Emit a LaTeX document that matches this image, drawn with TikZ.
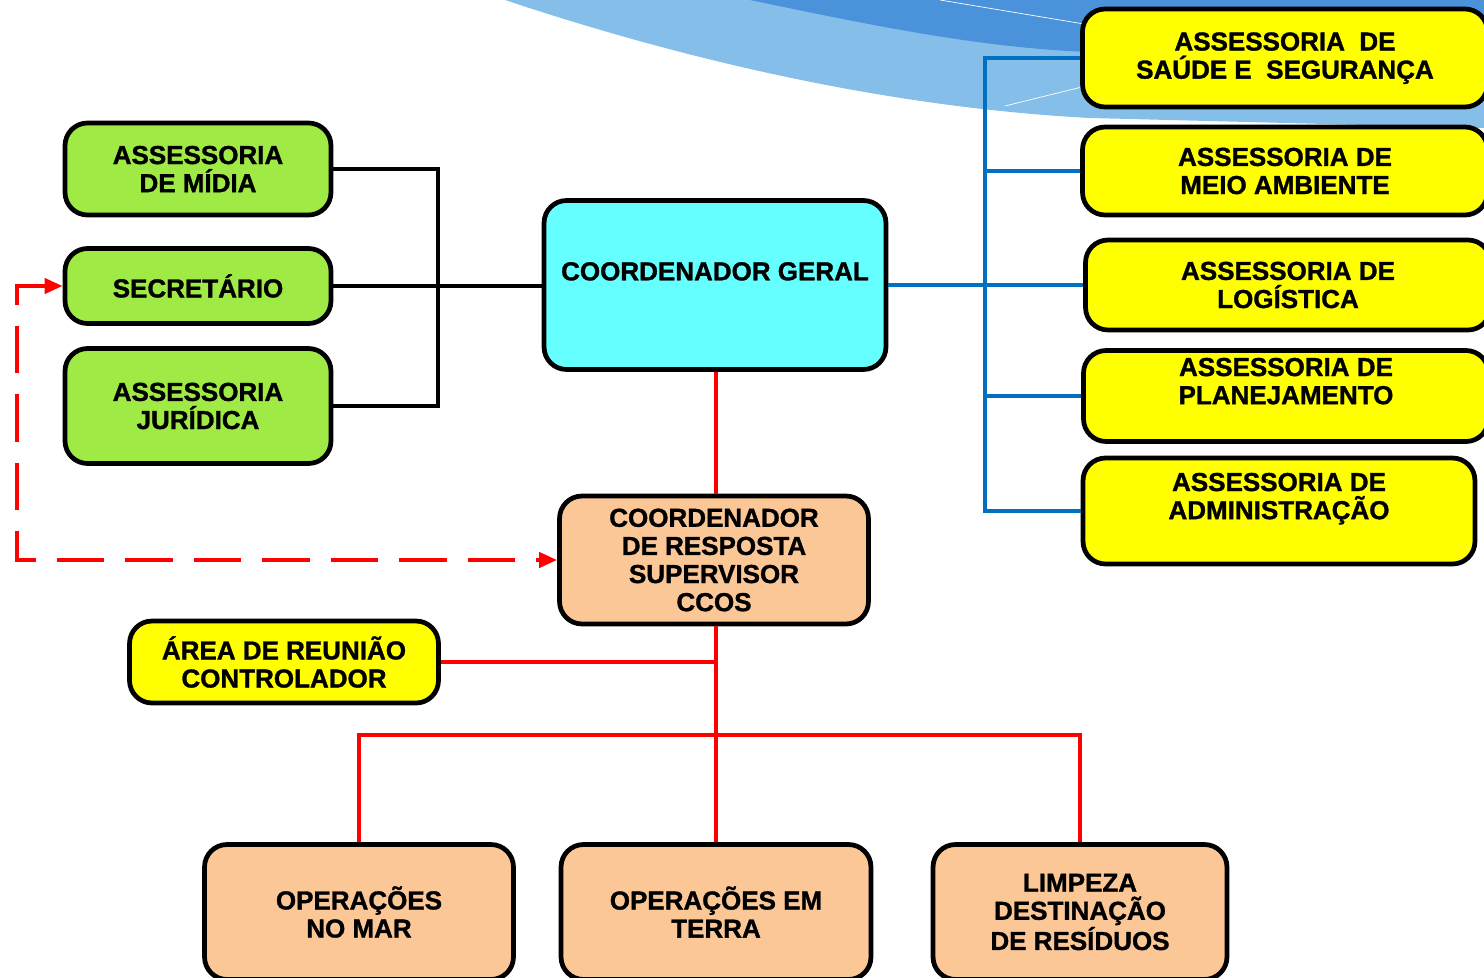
\documentclass[tikz,border=0pt]{standalone}
\usepackage{fontspec}
\setmainfont{Liberation Sans}[BoldFeatures={FakeBold=1.2}]
\usetikzlibrary{arrows.meta}

\definecolor{verde}{HTML}{9FEA45}
\definecolor{ciano}{HTML}{66FFFF}
\definecolor{amarelo}{HTML}{FFFF00}
\definecolor{pessego}{HTML}{FBC797}
\definecolor{azul}{HTML}{0070C0}
\definecolor{vermelho}{HTML}{FF0000}
\definecolor{azulclaro}{HTML}{86BEEA}
\definecolor{azulescuro}{HTML}{4A92DA}

\begin{document}
\begin{tikzpicture}[x=0.02cm,y=-0.02cm,
    caixa/.style={draw=black,line width=2.7pt,rounded corners=0.45cm,align=center,inner sep=0pt,
        font=\fontsize{14.8}{16}\selectfont\bfseries},
    verdebox/.style={caixa,fill=verde,minimum width=5.32cm},
    amarelobox/.style={caixa,fill=amarelo},
    pessegobox/.style={caixa,fill=pessego},
    linha/.style={line width=2.3pt}
    ]
    \useasboundingbox (0,0) rectangle (1484,977);
    \clip (0,0) rectangle (1484,977);
    \fill[white] (0,0) rectangle (1484,977);

    % fundo azul
    \fill[azulclaro] (505,0) .. controls (700,65) and (900,108) .. (1090,118) -- (1484,128) -- (1484,0) -- cycle;
    \fill[azulescuro] (750,0) .. controls (870,25) and (980,48) .. (1090,52) -- (1484,52) -- (1484,0) -- cycle;
    \draw[white,thin] (940,0) -- (1090,25);
    \draw[white,thin] (1005,106) -- (1090,85);

    % caixas
    \node[verdebox,minimum height=1.84cm] (midia) at (198,169) {ASSESSORIA\\DE MÍDIA};
    \node[verdebox,minimum height=1.5cm] (secretario) at (198,286) {SECRETÁRIO};
    \node[verdebox,minimum height=2.3cm] (juridica) at (198,406) {ASSESSORIA\\JURÍDICA};

    \node[caixa,fill=ciano,minimum width=6.84cm,minimum height=3.38cm,text depth=0.55cm] (geral) at (715,285) {COORDENADOR GERAL};

    \node[amarelobox,minimum width=8.1cm,minimum height=1.96cm,text depth=0.1cm] (saude) at (1285,58) {ASSESSORIA~~DE\\SAÚDE E~~SEGURANÇA};
    \node[amarelobox,minimum width=8.1cm,minimum height=1.76cm] (meio) at (1285,171) {ASSESSORIA DE\\MEIO AMBIENTE};
    \node[amarelobox,minimum width=8.1cm,minimum height=1.8cm] (logistica) at (1288,285) {ASSESSORIA DE\\LOGÍSTICA};
    \node[amarelobox,minimum width=8.1cm,minimum height=1.82cm,text depth=0.6cm] (planej) at (1286,396) {ASSESSORIA DE\\PLANEJAMENTO};
    \node[amarelobox,minimum width=7.84cm,minimum height=2.12cm,text depth=0.6cm] (admin) at (1279,511) {ASSESSORIA DE\\ADMINISTRAÇÃO};

    \node[pessegobox,minimum width=6.18cm,minimum height=2.56cm] (resposta) at (714,560) {COORDENADOR\\DE RESPOSTA\\SUPERVISOR\\CCOS};
    \node[amarelobox,minimum width=6.18cm,minimum height=1.64cm] (reuniao) at (284,662) {ÁREA DE REUNIÃO\\CONTROLADOR};

    \node[pessegobox,minimum width=6.18cm,minimum height=2.7cm] (mar) at (359,912) {OPERAÇÕES\\NO MAR};
    \node[pessegobox,minimum width=6.2cm,minimum height=2.7cm] (terra) at (716,912) {OPERAÇÕES EM\\TERRA};
    \node[pessegobox,minimum width=5.88cm,minimum height=2.7cm] (limpeza) at (1080,912) {LIMPEZA\\DESTINAÇÃO\\DE RESÍDUOS};

    % ligacoes
    \coordinate (jpreto) at (438,286);
    \coordinate (jazul) at (985,285);
    \coordinate (jverm) at (716,735);
    \coordinate (canto) at (17,560);

    \draw[linha] (midia.east) -| (jpreto) |- (juridica.east);
    \draw[linha] (secretario.east) -- (secretario.east -| geral.west);

    \draw[linha,azul] (geral.east) -- (jazul);
    \draw[linha,azul] (saude.west) -| (jazul) |- (admin.west);
    \draw[linha,azul] (meio.west) -- (meio.west -| jazul);
    \draw[linha,azul] (logistica.west) -- (jazul);
    \draw[linha,azul] (planej.west) -- (planej.west -| jazul);

    \draw[linha,vermelho] (geral.south -| jverm) -- (resposta.north -| jverm);
    \draw[linha,vermelho] (resposta.south -| jverm) -- (terra.north -| jverm);
    \draw[linha,vermelho] (reuniao.east) -- (reuniao.east -| jverm);
    \draw[linha,vermelho] (mar.north) |- (limpeza.north |- jverm) -- (limpeza.north);

    \draw[linha,vermelho,dash pattern=on 0.95cm off 0.42cm,{Triangle[length=0.36cm,width=0.3cm]}-{Triangle[length=0.36cm,width=0.3cm]}]
        (secretario.west) -| (canto) -- (resposta.west);
\end{tikzpicture}
\end{document}
